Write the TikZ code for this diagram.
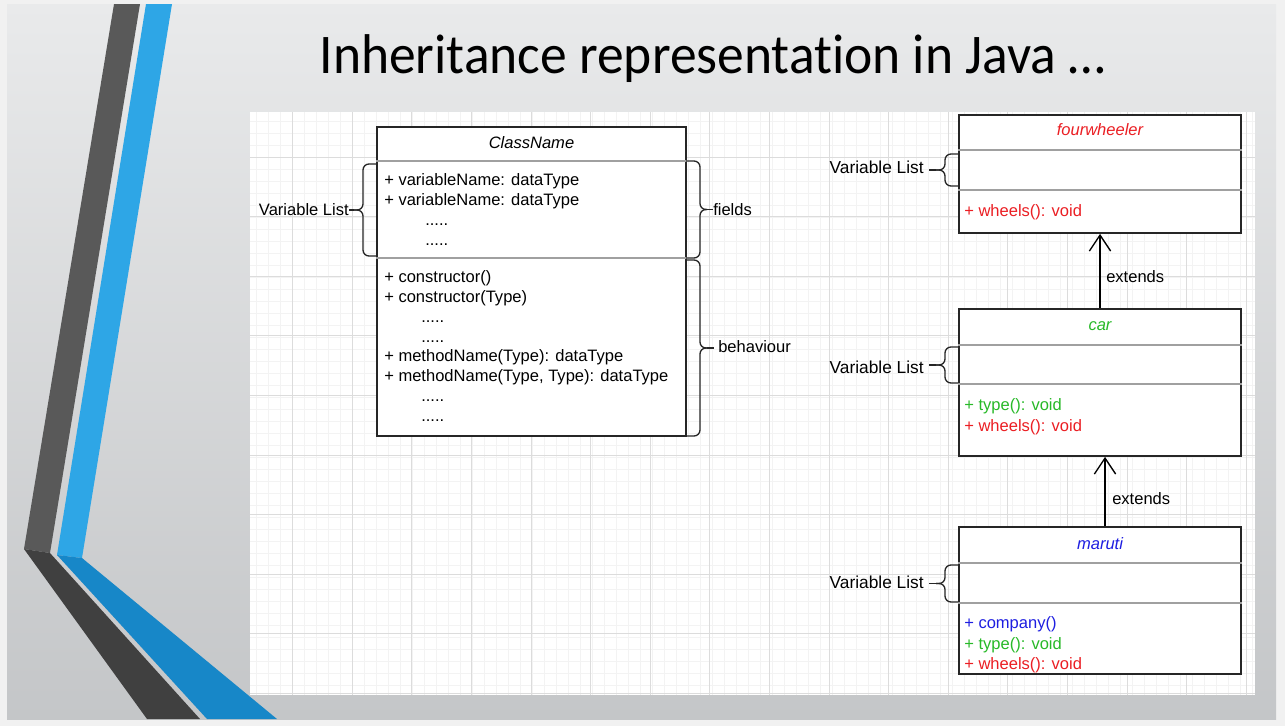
\documentclass[tikz,border=0pt]{standalone}
\usepackage{fontspec}
\usepackage{xcolor}
\usetikzlibrary{arrows.meta}
\setmainfont{Liberation Sans}
\newfontfamily\titlefont[Ligatures=NoCommon]{Carlito}
\definecolor{frame}{RGB}{241,241,241}
\definecolor{slidetop}{RGB}{233,234,235}
\definecolor{slidebot}{RGB}{196,198,200}
\definecolor{dgray}{RGB}{89,89,89}
\definecolor{ddgray}{RGB}{64,64,64}
\definecolor{lblue}{RGB}{46,166,230}
\definecolor{dblue}{RGB}{23,135,200}
\definecolor{gridmaj}{RGB}{220,220,220}
\definecolor{gridmin}{RGB}{243,243,243}
\definecolor{sepgray}{RGB}{160,160,160}
\definecolor{umlred}{RGB}{235,30,35}
\definecolor{umlgreen}{RGB}{40,185,40}
\definecolor{umlblue}{RGB}{30,30,225}
\tikzset{
  classbox/.style={draw=black!85, line width=1.3pt, fill=white, inner sep=0pt},
  sepline/.style={draw=sepgray, line width=0.9pt},
  mem/.style={anchor=base west, inner sep=0pt, font=\fontsize{12.4}{15}\selectfont},
  head/.style={anchor=base, inner sep=0pt, font=\fontsize{12.4}{15}\selectfont\itshape},
  lbl/.style={inner sep=0pt, font=\fontsize{12.4}{15}\selectfont},
  rlbl/.style={inner sep=0pt, anchor=east, font=\fontsize{13}{15}\selectfont},
  curly/.style={line width=1pt, draw=black!85, rounded corners=4.5pt},
  tick/.style={line width=1pt, draw=black!85},
  extarrow/.style={line width=1pt, -{Straight Barb[length=12pt, width=16pt, line width=1pt]}}
}
% #1 end x, #2 spine x, #3 tip x, #4 top y, #5 bottom y, #6 tip name
\newcommand{\drawcurly}[6]{%
  \coordinate (#6) at (#3,{(#4+#5)/2});
  \draw[curly] (#1,#4) -- (#2,#4) -- (#2,{(#4+#5)/2}) -- (#6);
  \draw[curly] (#6) -- (#2,{(#4+#5)/2}) -- (#2,#5) -- (#1,#5);}
\begin{document}
\begin{tikzpicture}[x=0.75pt, y=-0.75pt]
\useasboundingbox (0,0) rectangle (1285,726);
\fill[frame] (0,0) rectangle (1285,726);
\shade[top color=slidetop, bottom color=slidebot] (7,4) rectangle (1276,719);
\fill[dgray] (114,4) -- (140,4) -- (50,553) -- (24,549) -- cycle;
\fill[lblue] (146,4) -- (172,4) -- (82,558) -- (57,555) -- cycle;
\fill[ddgray] (24,549) -- (50,553) -- (200,719) -- (147,719) -- cycle;
\fill[dblue] (57,555) -- (82,558) -- (277,719) -- (207,719) -- cycle;
\node[anchor=base, inner sep=0pt] (title) at (712.5,73) {\titlefont\fontsize{42}{50}\selectfont\scalebox{0.956}[1]{Inheritance representation in Java …}};
\fill[white] (250,112) rectangle (1255,695);
\foreach \x in {256,268,...,1255} \draw[gridmin, line width=0.5pt] (\x,112) -- (\x,695);
\foreach \y in {121,133,...,695} \draw[gridmin, line width=0.5pt] (250,\y) -- (1255,\y);
\foreach \x in {292.6,352.2,...,1255} \draw[gridmaj, line width=0.6pt] (\x,112) -- (\x,695);
\foreach \y in {157,216.6,...,695} \draw[gridmaj, line width=0.6pt] (250,\y) -- (1255,\y);

\node[classbox, minimum width=231.75pt, minimum height=231.75pt] (cls) at (531.5,281.5) {};
\draw[sepline] (cls.west |- 0,161) -- (cls.east |- 0,161);
\draw[sepline] (cls.west |- 0,258) -- (cls.east |- 0,258);
\node[head] (clsname) at (531.5,148) {ClassName};
\foreach \y/\t in {185/{+ variableName: dataType}, 205/{+ variableName: dataType},
  282/{+ constructor()}, 302/{+ constructor(Type)},
  361/{+ methodName(Type): dataType}, 381/{+ methodName(Type, Type): dataType}}
  \node[mem] at (384,\y) {\t};
\foreach \x/\y in {425/225, 425/245, 421/322, 421/342, 421/401, 421/421}
  \node[mem] at (\x,\y) {.....};
\drawcurly{376}{363}{354}{164}{256}{tip0}
\node[lbl, anchor=east] (varlist0) at (349,210) {Variable List};
\draw[tick] (tip0) -- (varlist0.east);
\drawcurly{686}{700}{707}{161}{258}{tipf}
\node[lbl, anchor=west] (fields) at (713,210) {fields};
\draw[tick] (tipf) -- (fields.west |- tipf);
\drawcurly{686}{700}{707}{260}{436}{tipb}
\node[lbl, anchor=west] (behaviour) at (718,347) {behaviour};
\draw[tick] (tipb) -- ([xshift=-3pt]behaviour.west |- tipb);

\node[classbox, minimum width=211.5pt, minimum height=88.5pt] (four) at (1100,174) {};
\draw[sepline] (four.west |- 0,150) -- (four.east |- 0,150);
\draw[sepline] (four.west |- 0,190) -- (four.east |- 0,190);
\node[head, text=umlred] (fourname) at (1100,135) {fourwheeler};
\node[mem, text=umlred] at (964,216) {+ wheels(): void};
\drawcurly{958}{945}{936}{154}{186}{tip1}
\node[rlbl] (varlist1) at (924,167) {Variable List};
\draw[tick] (tip1) -- ([xshift=4pt]varlist1.east |- tip1);

\node[classbox, minimum width=211.5pt, minimum height=110.25pt] (car) at (1100,382.5) {};
\draw[sepline] (car.west |- 0,345) -- (car.east |- 0,345);
\draw[sepline] (car.west |- 0,384) -- (car.east |- 0,384);
\node[head, text=umlgreen] (carname) at (1100,330) {car};
\node[mem, text=umlgreen] at (964,410) {+ type(): void};
\node[mem, text=umlred] at (964,431) {+ wheels(): void};
\drawcurly{958}{945}{936}{347}{383}{tip2}
\node[rlbl] (varlist2) at (924,367) {Variable List};
\draw[tick] (tip2) -- ([xshift=4pt]varlist2.east |- tip2);

\node[classbox, minimum width=211.5pt, minimum height=110.25pt] (maruti) at (1100,600.5) {};
\draw[sepline] (maruti.west |- 0,563) -- (maruti.east |- 0,563);
\draw[sepline] (maruti.west |- 0,603) -- (maruti.east |- 0,603);
\node[head, text=umlblue] (marutiname) at (1100,549) {maruti};
\node[mem, text=umlblue] at (964,628) {+ company()};
\node[mem, text=umlgreen] at (964,649) {+ type(): void};
\node[mem, text=umlred] at (964,669) {+ wheels(): void};
\drawcurly{958}{945}{936}{565}{602}{tip3}
\node[rlbl] (varlist3) at (924,582) {Variable List};
\draw[tick] (tip3) -- ([xshift=4pt]varlist3.east |- tip3);

\draw[extarrow] (car.north) -- (four.south);
\node[lbl, anchor=west] (ext1) at (1106,277) {extends};
\draw[extarrow] ([xshift=3.75pt]maruti.north) -- ([xshift=3.75pt]car.south);
\node[lbl, anchor=west] (ext2) at (1112,499) {extends};
\end{tikzpicture}
\end{document}
